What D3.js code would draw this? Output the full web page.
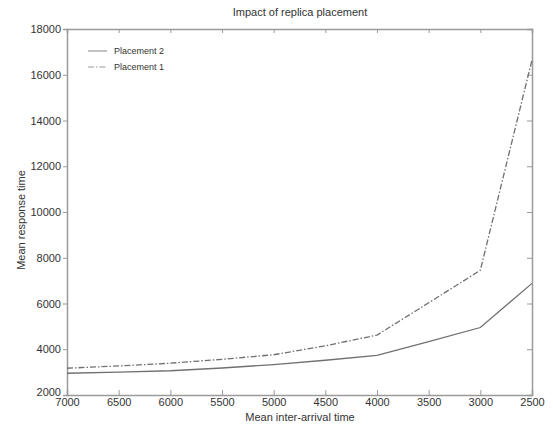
<!DOCTYPE html>
<html>
<head>
<meta charset="utf-8">
<script src="https://cdn.jsdelivr.net/npm/d3@7"></script>
<style>
  body { margin: 0; background: #fff; }
  text { font-family: "Liberation Sans", Arial, sans-serif; fill: #333; }
</style>
</head>
<body>
<div id="viz"></div>
<script>
// data
const interArrival = [7000, 6500, 6000, 5500, 5000, 4500, 4000, 3500, 3000, 2500];
const placement2 = [2950, 3000, 3060, 3180, 3330, 3520, 3730, 4330, 4950, 6880];
const placement1 = [3170, 3270, 3390, 3560, 3760, 4150, 4620, 6030, 7450, 16650];
const xTicks = [7000, 6500, 6000, 5500, 5000, 4500, 4000, 3500, 3000, 2500];
const yTicks = [2000, 4000, 6000, 8000, 10000, 12000, 14000, 16000, 18000];

let dimensions = {
  width: 553,
  height: 425,
  margin: { top: 29, right: 21, bottom: 30, left: 67 },
}
dimensions.boundedWidth = dimensions.width - dimensions.margin.left - dimensions.margin.right
dimensions.boundedHeight = dimensions.height - dimensions.margin.top - dimensions.margin.bottom

const axisColor = '#9a9a9a';
const lineColor = '#707070';

const svg = d3.select('#viz').append('svg')
  .attr('width', dimensions.width)
  .attr('height', dimensions.height);

const bounds = svg.append('g')
  .attr('transform', `translate(${dimensions.margin.left},${dimensions.margin.top})`);

const x = d3.scaleLinear().domain([7000, 2500]).range([0, dimensions.boundedWidth]);
const y = d3.scaleLinear().domain([2000, 18000]).range([dimensions.boundedHeight, 0]);

// axes: left ticks outside, others inside like the matlab box
const xAxis = bounds.append('g')
  .attr('transform', `translate(0,${dimensions.boundedHeight})`)
  .call(d3.axisBottom(x).tickValues(xTicks).tickSize(-5).tickPadding(2).tickFormat(d3.format('d')));
const xTop = bounds.append('g')
  .call(d3.axisTop(x).tickValues(xTicks).tickSize(-4).tickFormat(''));
const yAxis = bounds.append('g')
  .call(d3.axisLeft(y).tickValues(yTicks).tickSize(4).tickPadding(2).tickFormat(d3.format('d')));
const yRight = bounds.append('g')
  .attr('transform', `translate(${dimensions.boundedWidth},0)`)
  .call(d3.axisRight(y).tickValues(yTicks).tickSize(-5).tickFormat(''));

[xAxis, xTop, yAxis, yRight].forEach(a => {
  a.select('.domain').attr('stroke', axisColor).attr('stroke-width', 1.5);
  a.selectAll('.tick line').attr('stroke', axisColor);
  a.selectAll('.tick text').style('font-size', '11px').attr('fill', '#333');
});
xAxis.selectAll('.tick text').attr('y', 3).attr('dy', '0.71em');
// corner label sits a bit higher so it clears 7000
yAxis.selectAll('.tick text').filter(d => d === 2000).attr('dy', '0.05em');

const lineGen = d3.line()
  .x((d, i) => x(interArrival[i]))
  .y(d => y(d));

bounds.append('path')
  .datum(placement2)
  .attr('d', lineGen)
  .attr('fill', 'none')
  .attr('stroke', lineColor)
  .attr('stroke-width', 1.3);

bounds.append('path')
  .datum(placement1)
  .attr('d', lineGen)
  .attr('fill', 'none')
  .attr('stroke', lineColor)
  .attr('stroke-width', 1.3)
  .attr('stroke-dasharray', '6,2,1.5,2');

// legend
const legend = bounds.append('g').attr('transform', 'translate(21,22)');
const legendItems = [
  { name: 'Placement 2', dash: null },
  { name: 'Placement 1', dash: '6,2,1.5,2' },
];
legendItems.forEach((d, i) => {
  const g = legend.append('g').attr('transform', `translate(0,${i * 16})`);
  g.append('line')
    .attr('x1', 0).attr('x2', 19)
    .attr('stroke', '#999').attr('stroke-width', 1.2)
    .attr('stroke-dasharray', d.dash);
  g.append('text')
    .attr('x', 26).attr('dy', '0.35em')
    .style('font-size', '9px')
    .text(d.name);
});

// titles
svg.append('text')
  .attr('x', 300).attr('y', 16)
  .attr('text-anchor', 'middle')
  .style('font-size', '11px')
  .text('Impact of replica placement');

svg.append('text')
  .attr('x', 300).attr('y', 421)
  .attr('text-anchor', 'middle')
  .style('font-size', '11px')
  .text('Mean inter-arrival time');

svg.append('text')
  .attr('transform', 'translate(25,220) rotate(-90)')
  .attr('text-anchor', 'middle')
  .style('font-size', '11px')
  .text('Mean response time');
</script>
</body>
</html>
